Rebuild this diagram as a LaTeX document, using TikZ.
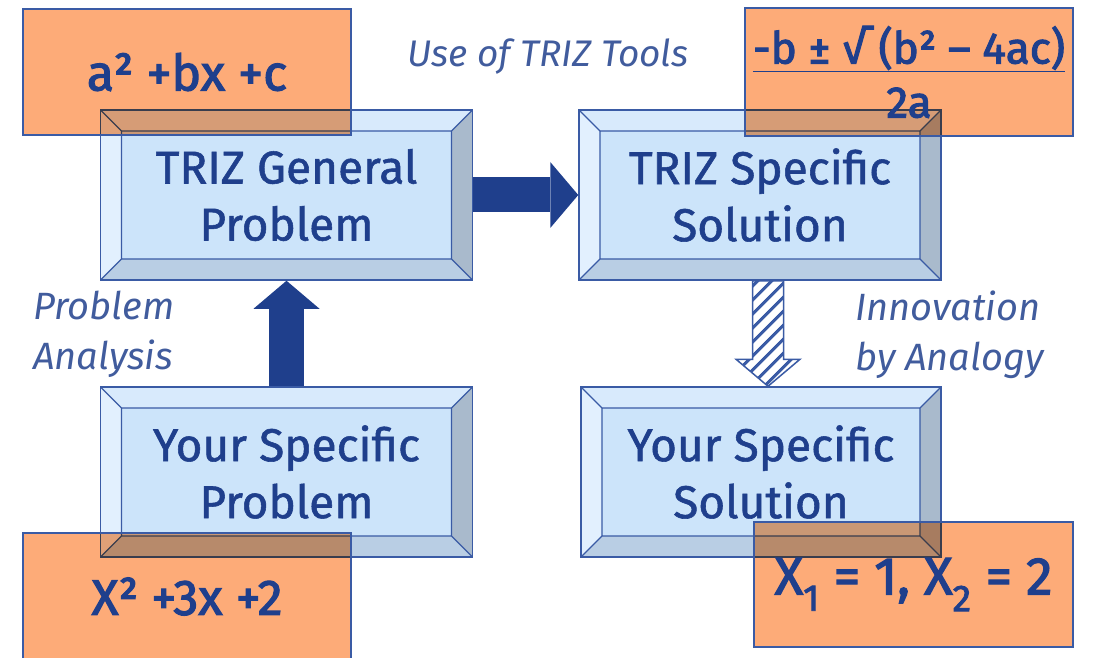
\documentclass[tikz,border=0pt]{standalone}
\usepackage{fontspec}
\setmainfont{Fira Sans}
\newfontfamily\medfont{Fira Sans}[FakeBold=1.2]
\newfontfamily\heavyfont{Fira Sans}[FakeBold=2.4]
\usepackage{xcolor}
\usetikzlibrary{positioning, calc, arrows.meta, patterns.meta}

\definecolor{trizblue}{HTML}{1F3F8C}
\definecolor{edgeblue}{HTML}{3A5BA5}
\definecolor{boxfill}{HTML}{CCE4FA}
\definecolor{bevtop}{HTML}{D8EAFC}
\definecolor{bevleft}{HTML}{E2F0FE}
\definecolor{bevright}{HTML}{A9BACC}
\definecolor{bevbottom}{HTML}{B9CEE4}
\definecolor{mathorange}{HTML}{FDAB78}

\tikzset{
  bevel/.style={draw=edgeblue, line width=1.5pt, fill=boxfill, text=trizblue,
    align=center, inner sep=0pt, minimum height=170pt,
    font=\medfont\fontsize{46}{57}\selectfont,
    path picture={
      \def\bw{21pt}
      \coordinate (nw) at (path picture bounding box.north west);
      \coordinate (ne) at (path picture bounding box.north east);
      \coordinate (se) at (path picture bounding box.south east);
      \coordinate (sw) at (path picture bounding box.south west);
      \fill[bevtop] (nw) -- (ne) -- ($(ne)+(-\bw,-\bw)$) -- ($(nw)+(\bw,-\bw)$) -- cycle;
      \fill[bevright] (ne) -- (se) -- ($(se)+(-\bw,\bw)$) -- ($(ne)+(-\bw,-\bw)$) -- cycle;
      \fill[bevbottom] (se) -- (sw) -- ($(sw)+(\bw,\bw)$) -- ($(se)+(-\bw,\bw)$) -- cycle;
      \fill[bevleft] (sw) -- (nw) -- ($(nw)+(\bw,-\bw)$) -- ($(sw)+(\bw,\bw)$) -- cycle;
      \draw[edgeblue, line width=1.3pt] ($(nw)+(\bw,-\bw)$) rectangle ($(se)+(-\bw,\bw)$)
        (nw) -- ++(\bw,-\bw) (ne) -- ++(-\bw,-\bw)
        (se) -- ++(-\bw,\bw) (sw) -- ++(\bw,\bw);
    }},
  mathbox/.style={draw=edgeblue, line width=1.3pt, text=trizblue, align=center,
    inner sep=0pt, minimum width=328pt, minimum height=126pt,
    font=\heavyfont\fontsize{50}{56}\selectfont,
    preaction={fill=mathorange, blend mode=multiply}},
  labeltext/.style={text=trizblue!85, align=left, inner sep=0pt,
    font=\itshape\fontsize{38}{50}\selectfont},
  bigarrow/.style={draw=trizblue, line width=35pt,
    -{Triangle[length=28pt, width=66pt, line width=0pt]}},
  hatcharrow/.style={draw=edgeblue, line width=1.5pt, fill=white,
    postaction={pattern={Lines[angle=45, distance=10.5pt, line width=3.5pt]}, pattern color=edgeblue}}
}

\begin{document}
\begin{tikzpicture}[x=1pt, y=1pt]
\useasboundingbox (0,0) rectangle (1102,657);

% the four bevelled steps
\node[bevel, minimum width=372pt] (genprob) at (286.5,462) {TRIZ General\\Problem};
\node[bevel, minimum width=362pt] (specsol) at (760,462) {TRIZ Specific\\Solution};
\node[bevel, minimum width=372pt] (yourprob) at (286.5,185) {Your Specific\\Problem};
\node[bevel, minimum width=360pt] (yoursol) at (761,185) {Your Specific\\Solution};

% arrows between the steps
\draw[bigarrow] (genprob) -- (specsol);
\draw[bigarrow] (yourprob) -- (genprob);
\coordinate (hs) at ($(specsol.south)+(8,0)$);
\coordinate (he) at (hs |- yoursol.north);
\draw[hatcharrow] ($(hs)+(-15.5,0)$) -- ($(he)+(-15.5,27)$) -- ($(he)+(-32,27)$) -- (he)
  -- ($(he)+(32,27)$) -- ($(he)+(15.5,27)$) -- ($(hs)+(15.5,0)$) -- cycle;

% labels
\node[labeltext, font=\itshape\fontsize{37}{44}\selectfont] (tools) at (548,600) {Use of TRIZ Tools};
\node[labeltext, anchor=west] (analysis) at (33,323) {Problem\\Analysis};
\node[labeltext, anchor=west] (analogy) at (855,322) {Innovation\\by Analogy};

% the example equations
\node[mathbox] (quadgen) at (187,585) {a² +bx +c};
\node[mathbox, minimum height=128pt, font=\heavyfont\fontsize{44}{54}\selectfont] (formula) at (909,585)
  {\underline{-b ± √ (b² – 4ac)}\\2a};
\node[mathbox, minimum height=127pt] (quadyour) at (187,60.5) {X² +3x +2};
\node[mathbox, minimum width=319pt, minimum height=125pt, font=\heavyfont\fontsize{53}{56}\selectfont] (roots) at (913.5,72.5)
  {X\textsubscript{1} = 1, X\textsubscript{2} = 2};
\end{tikzpicture}
\end{document}
